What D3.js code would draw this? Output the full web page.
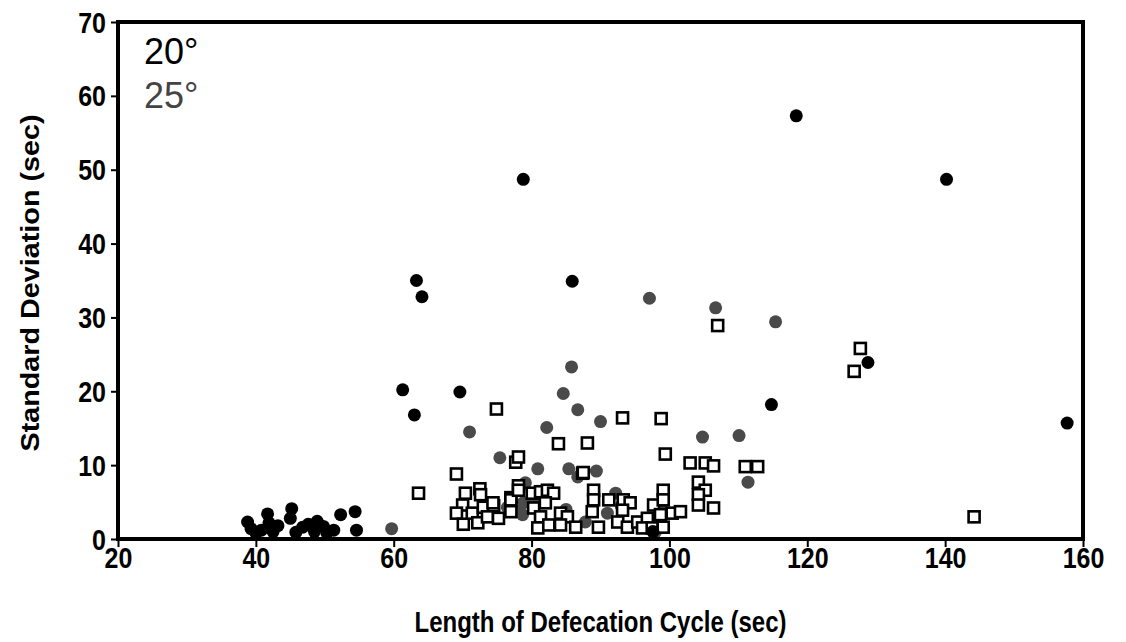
<!DOCTYPE html>
<html><head><meta charset="utf-8">
<script src="https://cdn.jsdelivr.net/npm/d3@7"></script>
<style>body{margin:0;background:#fff;} svg{display:block;}</style>
</head><body>
<svg id="chart" width="1126" height="642"></svg>
<script>
const xTicks = [20,40,60,80,100,120,140,160];
const yTicks = [0,10,20,30,40,50,60,70];
const legendLabels = ["20°","25°"];
const xTitle = "Length of Defecation Cycle (sec)";
const yTitle = "Standard Deviation (sec)";

// 20° – black filled circles [x, y]
const black20 = [
 [118.4,57.3],[78.8,48.7],[140.2,48.7],[63.3,35.0],[64.1,32.8],[85.9,34.9],
 [61.3,20.2],[69.6,19.9],[63.0,16.8],[114.8,18.2],[128.8,23.9],[157.7,15.7],[97.6,1.0],
 [38.8,2.3],[39.3,1.4],[40.0,0.8],[40.8,1.2],[41.7,3.4],[41.9,2.2],[42.5,1.0],[43.2,1.8],
 [45.2,4.1],[45.0,2.8],[45.8,0.9],[46.8,1.6],[47.6,2.0],[48.5,1.0],[48.9,2.4],[49.8,1.7],
 [50.3,0.8],[51.3,1.2],[52.3,3.3],[54.4,3.7],[54.6,1.2]
];
// 25° – gray filled circles
const gray25 = [
 [59.7,1.4],[97.1,32.6],[106.7,31.3],[115.4,29.4],[85.8,23.3],[84.6,19.7],[86.7,17.5],
 [90.0,15.9],[82.2,15.1],[71.0,14.5],[104.8,13.8],[110.1,14.0],[111.4,7.7],[75.4,11.0],
 [80.9,9.5],[85.4,9.5],[86.7,8.4],[89.4,9.2],[79.1,7.6],[76.5,4.3],[77.7,3.7],[78.8,4.9],
 [80.3,5.3],[78.7,3.3],[92.2,6.2],[91.0,3.5],[87.8,2.3],[98.9,4.9],[83.9,12.9],[82.0,5.6],
 [85.0,4.0],[93.0,4.5],[96.5,2.0],[98.0,1.0]
];
// third series – open squares
const squares = [
 [127.7,25.8],[126.8,22.7],[107.0,28.9],[98.8,16.3],[93.2,16.4],[74.9,17.6],[144.2,3.0],
 [83.9,12.9],[88.1,13.0],[99.4,11.5],[77.7,10.4],[78.1,11.1],[69.1,8.8],[63.6,6.2],
 [103.0,10.3],[105.2,10.3],[106.4,9.9],[111.0,9.8],[112.8,9.8],[104.2,7.7],[105.2,6.6],
 [104.2,6.0],[104.2,4.6],[106.4,4.2],[87.4,8.9],
 [70.4,6.2],[72.5,6.8],[72.6,6.0],[70.0,4.6],[69.1,3.5],[70.1,2.0],[71.4,3.5],[72.2,2.2],
 [73.0,4.3],[74.5,4.5],[73.6,3.0],[75.2,2.8],[77.0,3.7],[77.0,5.6],[78.1,7.2],[77.0,5.3],
 [78.1,6.6],[80.1,6.2],[81.3,6.4],[82.3,6.6],[83.2,6.2],[80.3,4.2],[82.0,4.9],[81.3,3.0],
 [84.2,3.5],[85.2,3.0],[84.2,1.9],[80.9,1.5],[82.5,1.9],[86.4,1.6],[89.0,6.6],[89.0,5.3],
 [88.8,3.7],[91.2,5.3],[89.7,1.6],[93.3,5.3],[94.3,4.9],[93.2,3.9],[92.5,2.3],[93.9,1.6],
 [95.4,2.3],[96.8,2.8],[96.1,1.5],[97.5,1.5],[97.7,4.6],[99.1,6.6],[99.1,5.3],[98.7,3.3],
 [99.1,1.6],[100.4,3.5],[101.6,3.7],[87.5,9.0],[74.4,4.9]
];

const svg = d3.select("#chart");
const M = {left:118, right:1083, top:22, bottom:539};
const x = d3.scaleLinear().domain([20,160]).range([M.left, M.right]);
const y = d3.scaleLinear().domain([0,70]).range([M.bottom, M.top]);

const font = "'Liberation Sans', Arial, sans-serif";

// x axis
const gx = svg.append("g").attr("transform",`translate(0,${M.bottom})`)
  .call(d3.axisBottom(x).tickValues(xTicks).tickSize(8).tickFormat(d3.format("d")));
gx.select(".domain").remove();
gx.selectAll("line").attr("stroke","#000").attr("stroke-width",2);
gx.selectAll("text").attr("font-family",font).attr("font-weight","bold").attr("font-size",25).attr("fill","#000")
  .attr("y",0).attr("dy",null).attr("transform","translate(0,29) scale(1,1.15)");

// y axis
const gy = svg.append("g").attr("transform",`translate(${M.left},0)`)
  .call(d3.axisLeft(y).tickValues(yTicks).tickSize(7).tickFormat(d3.format("d")));
gy.select(".domain").remove();
gy.selectAll("line").attr("stroke","#000").attr("stroke-width",2);
gy.selectAll("text").attr("font-family",font).attr("font-weight","bold").attr("font-size",25).attr("fill","#000")
  .attr("x",0).attr("dy",null).attr("transform","translate(-12,10) scale(1,1.15)");

// markers
svg.append("g").selectAll("circle").data(gray25).join("circle")
  .attr("cx",d=>x(d[0])).attr("cy",d=>y(d[1])).attr("r",6.5).attr("fill","#4a4a4a");
svg.append("g").selectAll("rect").data(squares).join("rect")
  .attr("x",d=>x(d[0])-5.5).attr("y",d=>y(d[1])-5.5).attr("width",11).attr("height",11)
  .attr("fill","#fff").attr("stroke","#000").attr("stroke-width",2.6);
svg.append("g").selectAll("circle").data(black20).join("circle")
  .attr("cx",d=>x(d[0])).attr("cy",d=>y(d[1])).attr("r",6.5).attr("fill","#000");

// frame
svg.append("rect").attr("x",M.left).attr("y",M.top).attr("width",M.right-M.left).attr("height",M.bottom-M.top)
  .attr("fill","none").attr("stroke","#000").attr("stroke-width",4);

// legend
svg.append("text").attr("x",144).attr("y",64).attr("font-family",font).attr("font-size",36).attr("fill","#000").text(legendLabels[0]);
svg.append("text").attr("x",144).attr("y",108).attr("font-family",font).attr("font-size",36).attr("fill","#444").text(legendLabels[1]);

// titles
svg.append("text").attr("transform",`translate(${(M.left+M.right)/2},632) scale(1,1.2)`).attr("text-anchor","middle")
  .attr("font-family",font).attr("font-weight","bold").attr("font-size",24).text(xTitle);
svg.append("text").attr("transform",`translate(39,283) rotate(-90) scale(1.15,1)`).attr("text-anchor","middle")
  .attr("font-family",font).attr("font-weight","bold").attr("font-size",25).text(yTitle);
</script>
</body></html>
